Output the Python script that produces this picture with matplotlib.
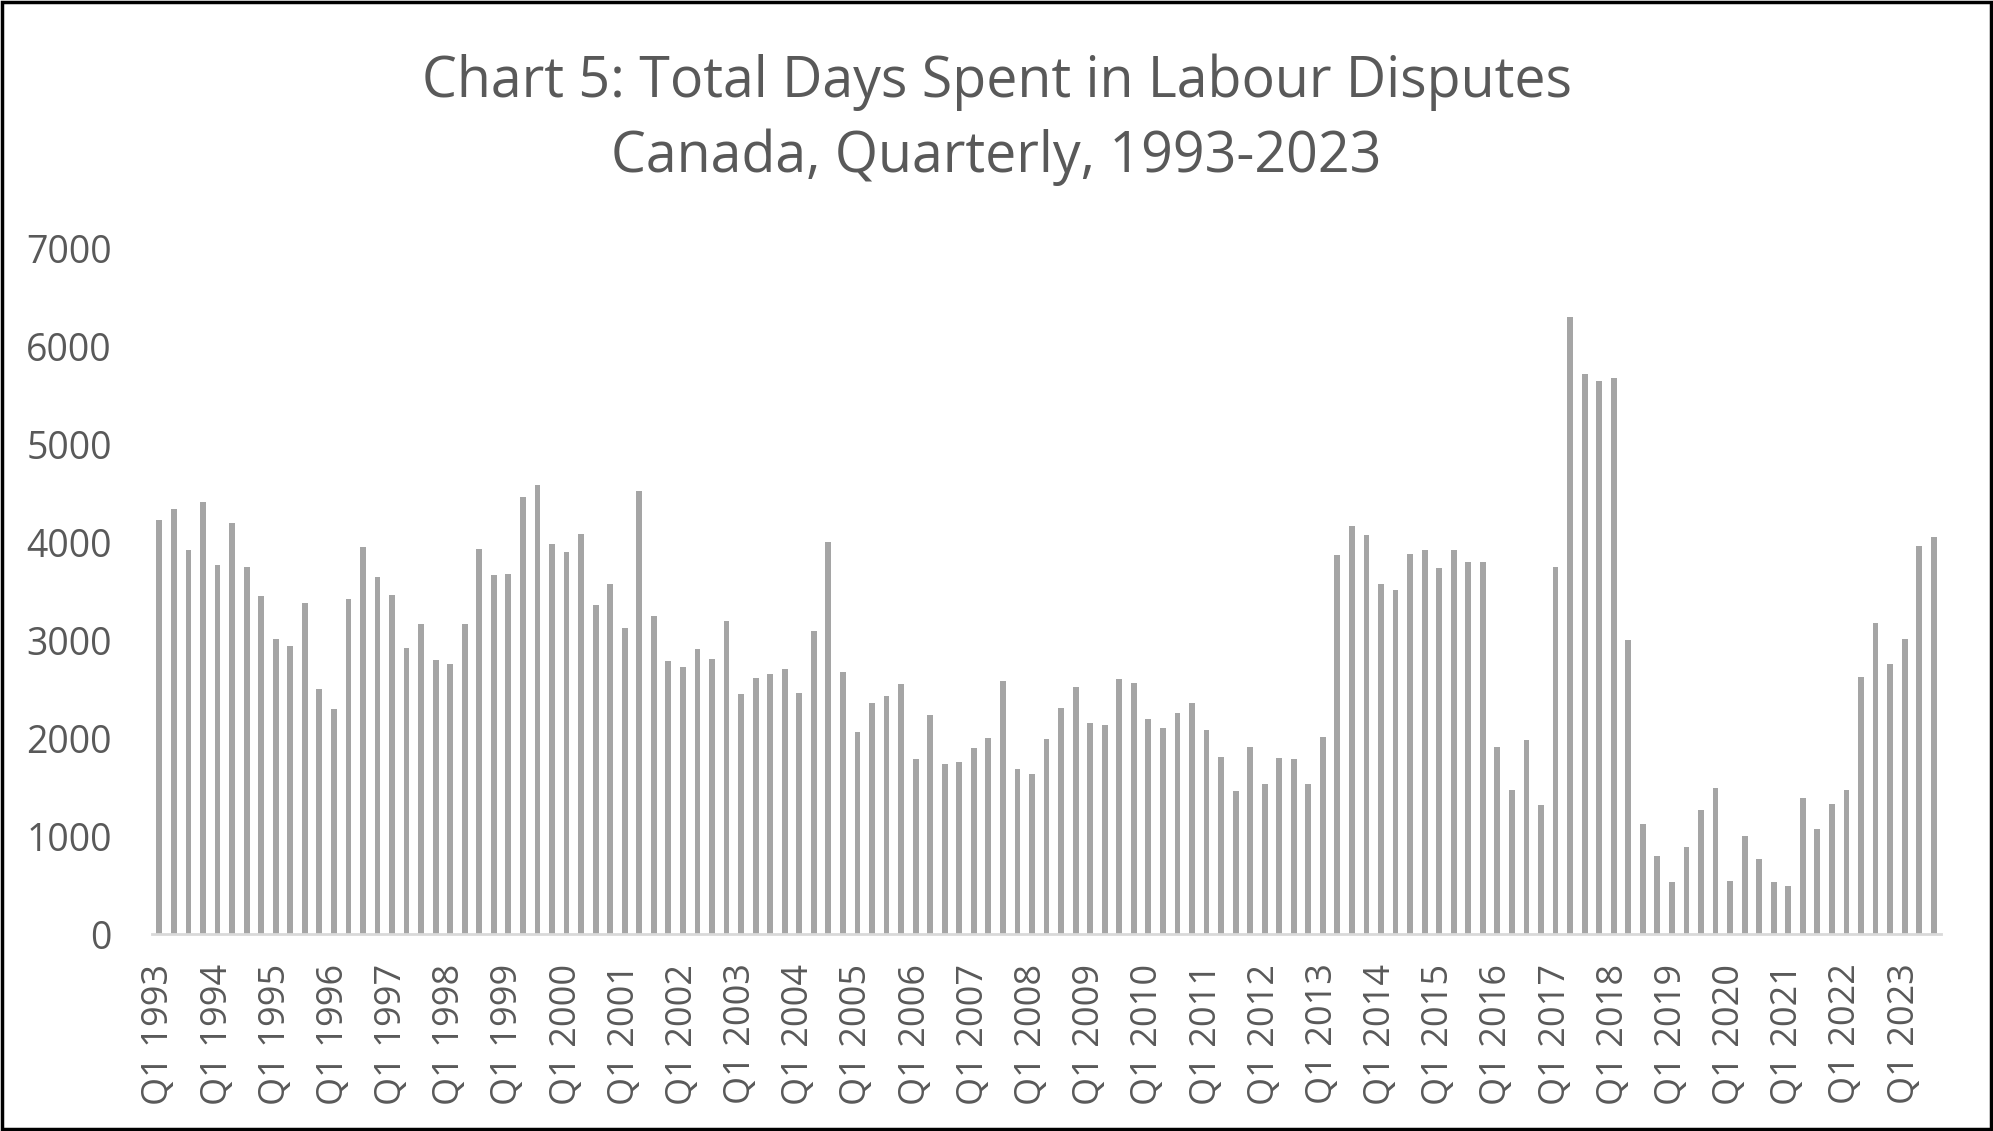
import matplotlib.pyplot as plt
from matplotlib.patches import Rectangle
import numpy as np

quarters = [f"Q{q} {y}" for y in range(1993, 2024) for q in range(1, 5)][:123]
days = [
    4230, 4343, 3924, 4414,
    3768, 4197, 3749, 3453,
    3019, 2939, 3387, 2506,
    2303, 3420, 3952, 3646,
    3462, 2925, 3165, 2803,
    2765, 3165, 3933, 3665,
    3674, 4465, 4588, 3985,
    3905, 4089, 3358, 3575,
    3132, 4527, 3245, 2793,
    2732, 2916, 2812, 3194,
    2454, 2619, 2661, 2713,
    2463, 3099, 4004, 2680,
    2068, 2365, 2435, 2558,
    1790, 2242, 1743, 1757,
    1903, 2002, 2591, 1686,
    1639, 1992, 2313, 2529,
    2157, 2138, 2609, 2567,
    2200, 2106, 2261, 2365,
    2087, 1809, 1460, 1912,
    1531, 1799, 1790, 1531,
    2016, 3872, 4169, 4074,
    3575, 3514, 3886, 3924,
    3735, 3924, 3801, 3801,
    1912, 1470, 1983, 1319,
    3749, 6302, 5718, 5648,
    5676, 3010, 1130, 805,
    537, 895, 1267, 1493,
    546, 1008, 772, 537,
    495, 1390, 1079, 1328,
    1479, 2628, 3175, 2765,
    3019, 3961, 4056,
]
title1 = "Chart 5: Total Days Spent in Labour Disputes"
title2 = "Canada, Quarterly, 1993-2023"

plt.rcParams['font.family'] = ['Open Sans', 'DejaVu Sans']
grey = '#595959'

fig = plt.figure(figsize=(19.93, 11.31), dpi=100)
ax = fig.add_axes([0.0763, 0.1738, 0.8976, 0.6064])

x = np.arange(len(days))
ax.bar(x, days, width=0.4, color='#A5A5A5')

ax.set_xlim(-0.5, len(days) - 0.5)
ax.set_ylim(0, 7000)
ax.set_yticks(range(0, 7001, 1000))
ax.set_xticks(x[::4])
ax.set_xticklabels(quarters[::4], rotation=90)
ax.tick_params(axis='both', length=0, labelcolor=grey)
ax.tick_params(axis='y', labelsize=27, pad=29)
ax.tick_params(axis='x', labelsize=26, pad=21)

for s in ['top', 'right', 'left']:
    ax.spines[s].set_visible(False)
ax.spines['bottom'].set_color('#D9D9D9')
ax.spines['bottom'].set_linewidth(2)

fig.text(0.5, 0.914, title1, ha='center', va='baseline', fontsize=40, color=grey)
fig.text(0.5, 0.8475, title2, ha='center', va='baseline', fontsize=40, color=grey)

fig.patches.append(Rectangle((0.001, 0.002), 0.998, 0.996, transform=fig.transFigure,
                             fill=False, edgecolor='black', linewidth=2.5))

plt.savefig('out.png', dpi=100)
